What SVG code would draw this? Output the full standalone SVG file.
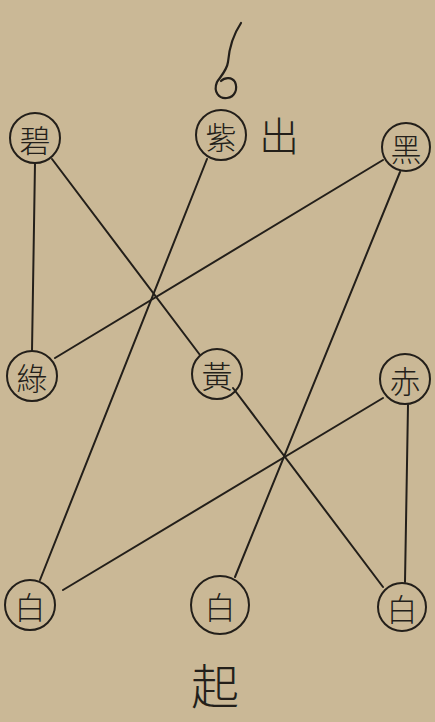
<svg xmlns="http://www.w3.org/2000/svg" width="435" height="722" viewBox="0 0 435 722">
<style>
.bg{fill:#cab896}
.node circle{fill:none;stroke:#231f1a;stroke-width:2}
.node text,.label{font-family:"Noto Sans CJK TC","Noto Sans CJK SC",sans-serif;fill:#231f1a;text-anchor:middle;dominant-baseline:central;font-weight:300}
.node text{font-size:31px}
.label{font-size:40px}
#connectors line{stroke:#231f1a;stroke-width:2;stroke-linecap:round}
.mark{fill:none;stroke:#231f1a;stroke-width:2.2;stroke-linecap:round}
</style>
<rect class="bg" x="0" y="0" width="435" height="722"/>
<g id="connectors">
<line x1="35" y1="163" x2="32" y2="351"/>
<line x1="52" y1="159" x2="200" y2="355"/>
<line x1="207" y1="159" x2="40" y2="580"/>
<line x1="383" y1="160" x2="55" y2="358"/>
<line x1="400" y1="172" x2="235" y2="577"/>
<line x1="233" y1="388" x2="383" y2="587"/>
<line x1="383" y1="398" x2="63" y2="590"/>
<line x1="408" y1="405" x2="405" y2="582"/>
</g>
<g id="mark"><path class="mark" d="M241,23 C233,35 229,50 228,62 C227,70 221,76 217,82 C213,92 219,99 227,98 C235,97 238,89 235,82 C232,77 225,77 221,81"/></g>
<g id="node-bi" class="node"><circle cx="35" cy="138" r="25"/><text x="35" y="138">碧</text></g>
<g id="node-zi" class="node"><circle cx="221" cy="135" r="25"/><text x="221" y="135">紫</text></g>
<g id="node-hei" class="node"><circle cx="406" cy="147" r="24"/><text x="406" y="147">黑</text></g>
<g id="node-lv" class="node"><circle cx="32" cy="376" r="25"/><text x="32" y="376">綠</text></g>
<g id="node-huang" class="node"><circle cx="217" cy="374" r="25"/><text x="217" y="374">黃</text></g>
<g id="node-chi" class="node"><circle cx="405" cy="379" r="25"/><text x="405" y="379">赤</text></g>
<g id="node-bai1" class="node"><circle cx="30" cy="605" r="25"/><text x="30" y="605">白</text></g>
<g id="node-bai2" class="node"><circle cx="220" cy="605" r="29"/><text x="220" y="605">白</text></g>
<g id="node-bai3" class="node"><circle cx="402" cy="607" r="24"/><text x="402" y="607">白</text></g>
<text class="label" x="279" y="134">出</text>
<text class="label" x="215" y="683" style="font-size:48px">起</text>
</svg>
